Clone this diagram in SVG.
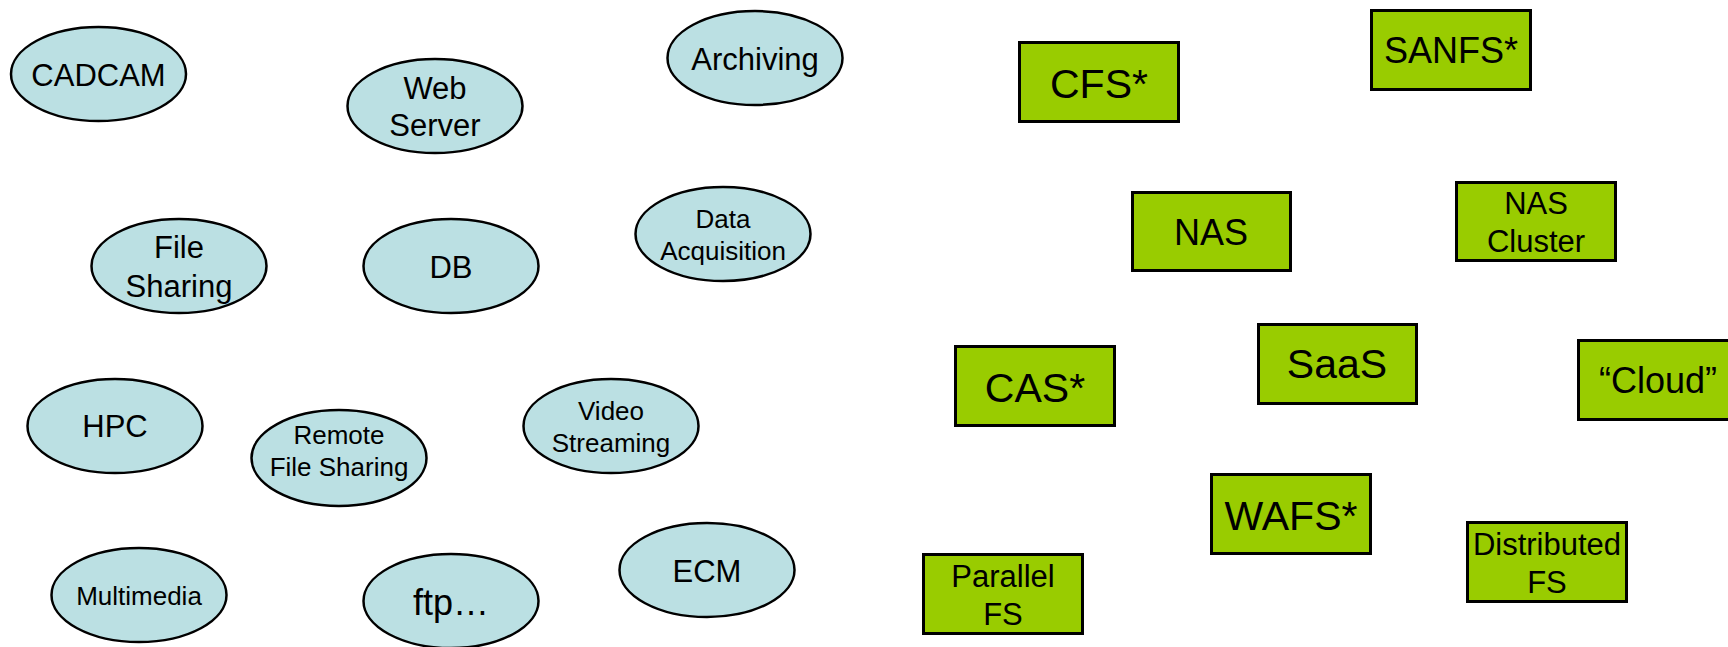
<svg xmlns="http://www.w3.org/2000/svg" width="1728" height="647" viewBox="0 0 1728 647">
<style>
.e{fill:#BBE0E3;stroke:#000;stroke-width:2.5}
.r{fill:#99CC00;stroke:#000;stroke-width:3}
text{font-family:"Liberation Sans",Arial,sans-serif;fill:#000;text-anchor:middle}
</style>
<rect width="1728" height="647" fill="#fff"/>
<g id="connectors"/>
<g id="cadcam"><ellipse class="e" cx="98.5" cy="74" rx="87.5" ry="47"/><text x="98.5" y="86" font-size="31">CADCAM</text></g>
<g id="webserver"><ellipse class="e" cx="435" cy="106" rx="87.5" ry="47"/><text x="435" y="99" font-size="31">Web</text><text x="435" y="136" font-size="31">Server</text></g>
<g id="archiving"><ellipse class="e" cx="755" cy="58" rx="87.5" ry="47"/><text x="755" y="70" font-size="31">Archiving</text></g>
<g id="filesharing"><ellipse class="e" cx="179" cy="266" rx="87.5" ry="47"/><text x="179" y="258" font-size="31">File</text><text x="179" y="297" font-size="31">Sharing</text></g>
<g id="db"><ellipse class="e" cx="451" cy="266" rx="87.5" ry="47"/><text x="451" y="278" font-size="31">DB</text></g>
<g id="dataacq"><ellipse class="e" cx="723" cy="234" rx="87.5" ry="47"/><text x="723" y="228" font-size="26">Data</text><text x="723" y="260" font-size="26">Acquisition</text></g>
<g id="hpc"><ellipse class="e" cx="115" cy="426" rx="87.5" ry="47"/><text x="115" y="437" font-size="31">HPC</text></g>
<g id="remotefs"><ellipse class="e" cx="339" cy="458" rx="87.5" ry="48"/><text x="339" y="444" font-size="26">Remote</text><text x="339" y="476" font-size="26">File Sharing</text></g>
<g id="video"><ellipse class="e" cx="611" cy="426" rx="87.5" ry="47"/><text x="611" y="420" font-size="26">Video</text><text x="611" y="452" font-size="26">Streaming</text></g>
<g id="multimedia"><ellipse class="e" cx="139" cy="595" rx="87.5" ry="47"/><text x="139" y="605" font-size="26">Multimedia</text></g>
<g id="ftp"><ellipse class="e" cx="451" cy="601" rx="87.5" ry="47"/><text x="451" y="615" font-size="36">ftp…</text></g>
<g id="ecm"><ellipse class="e" cx="707" cy="570" rx="87.5" ry="47"/><text x="707" y="582" font-size="31">ECM</text></g>
<g id="cfs"><rect class="r" x="1019.5" y="42.5" width="159" height="79"/><text x="1099" y="98" font-size="41">CFS*</text></g>
<g id="sanfs"><rect class="r" x="1371.5" y="10.5" width="159" height="79"/><text x="1451" y="63" font-size="36">SANFS*</text></g>
<g id="nas"><rect class="r" x="1132.5" y="192.5" width="158" height="78"/><text x="1211" y="245" font-size="36">NAS</text></g>
<g id="nascluster"><rect class="r" x="1456.5" y="182.5" width="159" height="78"/><text x="1536" y="214" font-size="31">NAS</text><text x="1536" y="252" font-size="31">Cluster</text></g>
<g id="cas"><rect class="r" x="955.5" y="346.5" width="159" height="79"/><text x="1035" y="402" font-size="41">CAS*</text></g>
<g id="saas"><rect class="r" x="1258.5" y="324.5" width="158" height="79"/><text x="1337" y="378" font-size="41">SaaS</text></g>
<g id="cloud"><rect class="r" x="1578.5" y="340.5" width="159" height="79"/><text x="1658" y="393" font-size="36">“Cloud”</text></g>
<g id="wafs"><rect class="r" x="1211.5" y="474.5" width="159" height="79"/><text x="1291" y="530" font-size="41">WAFS*</text></g>
<g id="parallelfs"><rect class="r" x="923.5" y="554.5" width="159" height="79"/><text x="1003" y="587" font-size="31">Parallel</text><text x="1003" y="625" font-size="31">FS</text></g>
<g id="distributedfs"><rect class="r" x="1467.5" y="522.5" width="159" height="79"/><text x="1547" y="555" font-size="31">Distributed</text><text x="1547" y="593" font-size="31">FS</text></g>
</svg>
